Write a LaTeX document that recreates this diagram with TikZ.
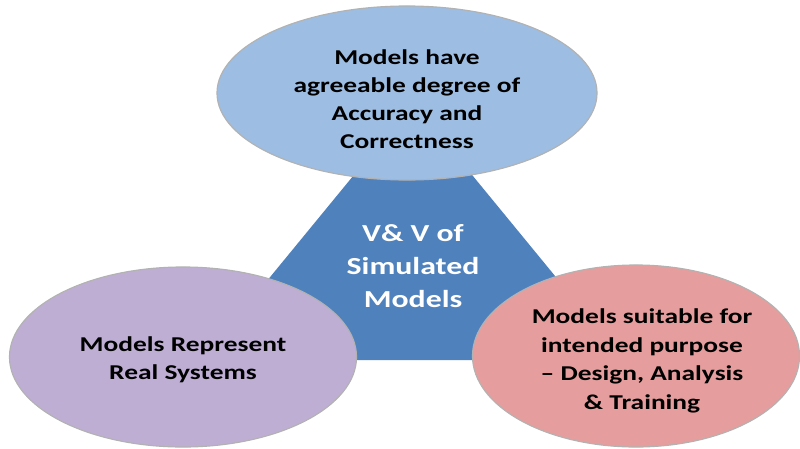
\documentclass[tikz,border=0pt]{standalone}
\usepackage{fontspec}
\setmainfont{Carlito}[FakeStretch=1.3]
\usepackage{tikz}
\usepackage{xcolor}
\usetikzlibrary{shapes.geometric}
\definecolor{topcolor}{RGB}{157,189,226}
\definecolor{leftcolor}{RGB}{190,174,212}
\definecolor{rightcolor}{RGB}{229,158,157}
\definecolor{centercolor}{RGB}{79,129,189}
\tikzstyle{bubble} = [ellipse, draw=black!30, line width=0.8pt, inner sep=0pt]
\tikzstyle{label} = [align=center, inner sep=0pt, font=\bfseries\fontsize{15}{19.8}\selectfont]

\begin{document}
\begin{tikzpicture}[x=0.025cm, y=-0.025cm]
    \useasboundingbox (0,0) rectangle (800,448);

    % Central triangle
    \fill[centercolor] (413,103) -- (202,360) -- (624,360) -- cycle;
    \node[label, font=\bfseries\fontsize{17.4}{23.4}\selectfont, text=white] (vv) at (413,266) {V\& V of\\Simulated\\Models};

    % Top ellipse
    \node[bubble, fill=topcolor, minimum width=9.5cm, minimum height=4.35cm] (accuracy) at (407,93) {};
    \node[label] (accuracytext) at (407,99) {Models have\\agreeable degree of\\Accuracy and\\Correctness};

    % Bottom left ellipse
    \node[bubble, fill=leftcolor, minimum width=8.675cm, minimum height=4.5cm] (real) at (183,357) {};
    \node[label] (realtext) at (183,360) {Models Represent\\Real Systems};

    % Bottom right ellipse
    \node[bubble, fill=rightcolor, minimum width=8.175cm, minimum height=4.55cm] (purpose) at (636,356) {};
    \node[label, font=\bfseries\fontsize{15}{20.3}\selectfont] (purposetext) at (642,361) {Models suitable for\\intended purpose\\-- Design, Analysis\\\& Training};
\end{tikzpicture}
\end{document}
